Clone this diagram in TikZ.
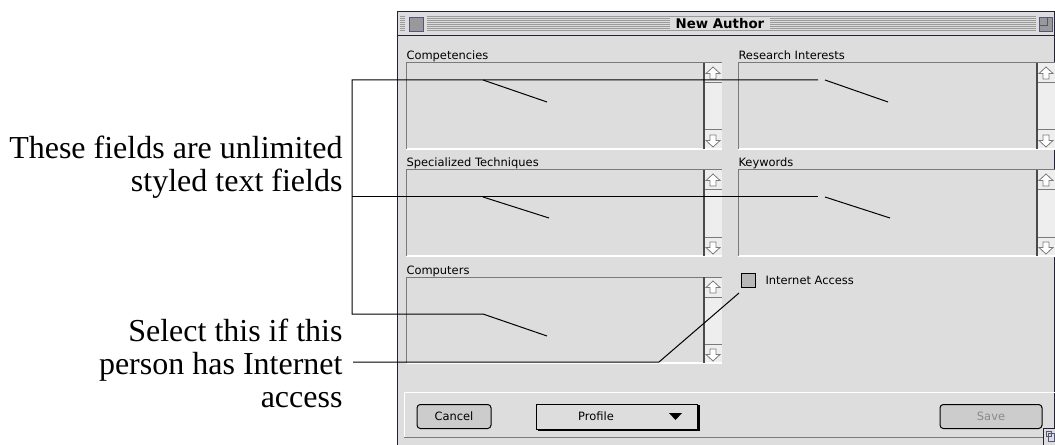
\documentclass[tikz,border=0pt]{standalone}
\usepackage{fontspec}
\setmainfont{Liberation Serif}
\newfontfamily\uifont{DejaVu Sans}
\definecolor{winbg}{HTML}{DDDDDD}
\definecolor{scrollbg}{HTML}{EEEEEE}
\definecolor{fieldline}{HTML}{7A7A7A}
\definecolor{darkline}{HTML}{4A4A4A}
\definecolor{stripecol}{HTML}{9A9A9A}
\definecolor{btnfill}{HTML}{CCCCCC}
\definecolor{framecol}{HTML}{222233}
\definecolor{boxline}{HTML}{55557A}
\definecolor{boxfill}{HTML}{999999}
\definecolor{greytext}{HTML}{8A8A8A}
\tikzset{
  callout/.style={draw=black, line width=0.75pt},
  calltext/.style={font=\fontsize{24}{24.75}\selectfont, align=right, inner sep=0pt},
  uilabel/.style={font=\uifont\fontsize{8.6}{10}\selectfont, inner sep=0pt, anchor=base west},
  titletext/.style={font=\uifont\bfseries\fontsize{10}{12}\selectfont, fill=winbg, inner xsep=4.5pt, inner ysep=1pt},
  btn/.style={draw=black, line width=0.75pt, fill=btnfill, rounded corners=2.5pt,
    minimum height=18pt, inner sep=0pt, font=\uifont\fontsize{8.6}{10}\selectfont},
  popup/.style={draw=black, line width=0.75pt, fill=winbg, minimum width=120.75pt, minimum height=18.75pt, inner sep=0pt},
  checkbox/.style={draw=black, line width=0.75pt, fill=boxfill!70!white, minimum size=10.5pt, inner sep=0pt},
  arrowline/.style={draw=fieldline, fill=white, line width=0.6pt},
  uparr/.pic={\path[arrowline] (0,-6) -- (7,0.5) -- (3,0.5) -- (3,6) -- (-3,6) -- (-3,0.5) -- (-7,0.5) -- cycle;},
  downarr/.pic={\path[arrowline] (0,6) -- (7,-0.5) -- (3,-0.5) -- (3,-6) -- (-3,-6) -- (-3,-0.5) -- (-7,-0.5) -- cycle;},
}
% #1 x0, #2 y0, #3 text width, #4 scroll width, #5 label, #6 name
\newcommand\UIfield[6]{%
  \begin{scope}[shift={(#1,#2)}]
    \fill[scrollbg] (#3,0) rectangle ++(#4,86);
    \draw[white, line width=1.2pt] (0,86) -- (#3+#4,86);
    \draw[fieldline] (0,86) -- (0,0) -- (#3+#4,0);
    \draw[fieldline] (#3,20) -- ++(#4,0);
    \draw[fieldline] (#3,67) -- ++(#4,0);
    \draw[darkline, line width=1.5pt] (#3,0) -- (#3,86);
    \pic at (#3+#4/2,10) {uparr};
    \pic at (#3+#4/2,78) {downarr};
    \node[uilabel] (#6) at (0,-3) {#5};
  \end{scope}}
\begin{document}
\begin{tikzpicture}[x=0.75pt,y=-0.75pt,line width=0.75pt]
\useasboundingbox (0,0) rectangle (1055,445);
\clip (0,0) rectangle (1055,445);
\fill[white] (0,0) rectangle (1055,445);

% window
\fill[winbg] (397,12) rectangle (1060,450);
\draw[framecol] (397,450) -- (397,12) -- (1060,12);
\draw[framecol] (1054.6,12) -- (1054.6,450);
\draw[framecol] (397,35.5) -- (1060,35.5);
\foreach \y in {17,19,...,31} \draw[stripecol] (400,\y) -- (1036,\y);
\fill[winbg] (405,14) rectangle (427,34);
\draw[boxline, fill=boxfill] (409.5,17.5) rectangle (423.5,31.5);
\fill[winbg] (1036,14) rectangle (1054,34);
\draw[boxline, fill=boxfill] (1039.5,17.5) rectangle (1052.5,31.5);
\draw[boxline] (1039.5,17.5) rectangle (1047.5,25.5);
\node[titletext] (title) at (720,24) {New Author};

% fields
\UIfield{406}{63}{298}{18}{Competencies}{lcomp}
\UIfield{738}{63}{299}{18}{Research Interests}{lres}
\UIfield{406}{170}{298}{18}{Specialized Techniques}{lspec}
\UIfield{738}{170}{299}{18}{Keywords}{lkey}
\UIfield{406}{277}{298}{18}{Computers}{lcompu}

% checkbox
\node[checkbox] (cb) at (748,280) {};
\node[uilabel] (ia) at (765,284.5) {Internet Access};

% bottom panel
\draw[white] (404,437) -- (404,392) -- (1060,392);
\draw[fieldline] (404,437) -- (1060,437);
\node[btn, minimum width=55.5pt] (cancel) at (454,416.5) {Cancel};
\draw[black, line width=1.5pt] (538,429.5) -- (698.5,429.5) -- (698.5,405);
\node[popup] (profile) at (617,416.5) {};
\node[uilabel, anchor=center] (proftext) at (596,416.5) {Profile};
\fill[black] (669,413) -- (682,413) -- (675.5,420) -- cycle;
\node[btn, minimum width=76.5pt, text=greytext] (save) at (991,416.5) {Save};

% grow box
\draw[framecol, fill=winbg] (1043.5,428.5) rectangle (1058,448);
\draw[boxline] (1046.5,431.5) rectangle (1051.5,436.5);
\draw[boxline] (1048.5,433.5) rectangle (1054,441);

% callout texts
\node[calltext, anchor=base east] (t1) at (343,192) {These fields are unlimited\\styled text fields};
\node[calltext, anchor=base east] (t2) at (343,407) {Select this if this\\person has Internet\\access};

% callout lines
\coordinate (bt) at (352,80);
\coordinate (bm) at (352,197);
\coordinate (bb) at (352,314);
\coordinate (e1) at (818,80);
\coordinate (e2) at (818,197);
\draw[callout] (e1) -- (bt) -- (bb) -- (483,314) -- (547,336);
\draw[callout] (483,80) -- (547,102);
\draw[callout] (825,80) -- (888,102);
\draw[callout] (bm) -- (e2);
\draw[callout] (483,197) -- (549,218);
\draw[callout] (825,197) -- (890,218);
\coordinate (ib) at (353,362);
\coordinate (ik) at (659,362);
\coordinate (ie) at (739,293);
\draw[callout] (ib) -- (ik) -- (ie);
\end{tikzpicture}
\end{document}
